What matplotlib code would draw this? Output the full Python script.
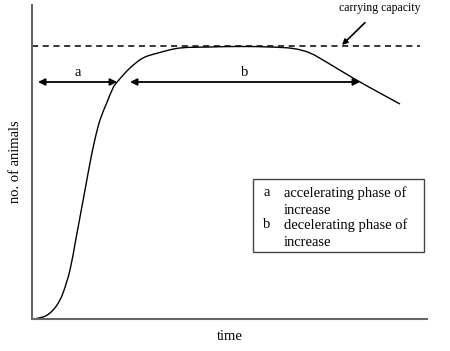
import matplotlib
matplotlib.use('Agg')
import numpy as np
import matplotlib.pyplot as plt
from matplotlib.patches import Rectangle, PathPatch
from matplotlib.path import Path

plt.rcParams['font.family'] = ['Liberation Serif', 'DejaVu Serif']

# population curve (arbitrary units)
time_vals = [1, 11, 18, 25, 31, 38, 43.7, 48, 53, 58, 63, 68, 74.7, 81, 86, 98, 111, 126,
             148, 178, 208, 238, 261, 278, 296, 321, 346, 368]
animals = [0, 2, 6, 14, 26, 49, 79, 102, 129, 156, 180, 199, 216, 231, 238, 251, 261, 266,
           271, 272, 272.5, 272, 270.5, 266, 256, 241, 227, 215]

capacity = 273
capacity_end = 388
arrow_level = 237
phase_a = (6, 85)
phase_b = (98, 328)

legend_keys = ['a', 'b']
legend_desc = [['accelerating phase of', 'increase'],
               ['decelerating phase of', 'increase']]


def smooth_path(xs, ys):
    # Catmull-Rom through the read points, drawn as cubic bezier segments
    p = np.column_stack([xs, ys]).astype(float)
    verts = [p[0]]
    codes = [Path.MOVETO]
    for i in range(len(p) - 1):
        p0 = p[i - 1] if i > 0 else p[i]
        p3 = p[i + 2] if i + 2 < len(p) else p[i + 1]
        c1 = p[i] + (p[i + 1] - p0) / 6
        c2 = p[i + 1] - (p3 - p[i]) / 6
        verts += [c1, c2, p[i + 1]]
        codes += [Path.CURVE4] * 3
    return Path(verts, codes)


fig = plt.figure(figsize=(4.5, 3.51), dpi=100)
ax = fig.add_axes([32 / 450, 32 / 351, 395 / 450, 314 / 351])
ax.set_xlim(0, 395)
ax.set_ylim(0, 314)

ax.add_patch(PathPatch(smooth_path(time_vals, animals), fill=False,
                       edgecolor='black', lw=1.0))
ax.plot([0, capacity_end], [capacity, capacity], color='black', lw=1.1,
        linestyle=(0, (4, 3)))

# phase arrows
for (x0, x1), lab in zip([phase_a, phase_b], ['a', 'b']):
    ax.annotate('', xy=(x0, arrow_level), xytext=(x1, arrow_level),
                arrowprops=dict(arrowstyle='<|-|>', color='black', lw=1.3,
                                mutation_scale=10, shrinkA=0, shrinkB=0))
    ax.text((x0 + x1) / 2, arrow_level + 3, lab, ha='center', va='bottom', fontsize=10.5)

ax.annotate('carrying capacity', xy=(310, capacity + 1), xytext=(348, 311),
            ha='center', va='center', fontsize=8.5, annotation_clip=False,
            arrowprops=dict(arrowstyle='-|>', color='black', lw=1.2,
                            mutation_scale=8, shrinkA=6, shrinkB=0))

# legend box
ax.add_patch(Rectangle((221, 67), 171, 73, fill=False, edgecolor='#444444', lw=1.0))
line_y = [[126, 109], [94, 77]]
for key, desc, ys in zip(legend_keys, legend_desc, line_y):
    ax.text(231, ys[0], key, ha='left', va='center', fontsize=10.5)
    for line, y in zip(desc, ys):
        ax.text(252, y, line, ha='left', va='center', fontsize=10.5)

for side in ['top', 'right']:
    ax.spines[side].set_visible(False)
for side in ['left', 'bottom']:
    ax.spines[side].set_color('#666666')
    ax.spines[side].set_linewidth(1.5)
ax.set_xticks([])
ax.set_yticks([])
ax.set_xlabel('time', fontsize=10.5, labelpad=8)
ax.set_ylabel('no. of animals', fontsize=10.5, labelpad=7)

fig.savefig('out.png', dpi=100)
